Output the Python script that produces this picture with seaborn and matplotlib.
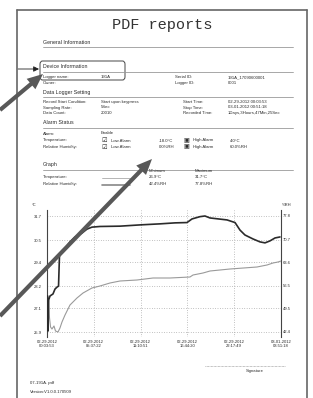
import matplotlib
matplotlib.use('Agg')
import matplotlib.pyplot as plt
import seaborn as sns
from matplotlib.patches import FancyArrowPatch, FancyBboxPatch
from matplotlib.lines import Line2D

W, H = 313, 398

# Relative humidity curve (dark line, right axis) - hours from start
rh_hours = [0.06, 0.12, 0.20, 0.36, 0.71, 0.95, 1.19, 1.37, 1.48, 1.78, 2.26, 2.73,
            3.33, 4.16, 4.75, 5.34, 6.29, 8.67, 11.16, 13.42, 15.20, 16.63, 17.22,
            18.17, 18.76, 19.36, 21.38, 22.33, 22.92, 23.51, 24.46, 25.29, 25.89,
            26.48, 27.08, 27.67]
rh_values = [53.4, 42.7, 52.2, 53.4, 54.0, 55.5, 56.1, 56.4, 65.6, 66.8, 68.3, 69.9,
             71.4, 72.6, 73.8, 74.4, 74.6, 74.7, 75.1, 75.4, 75.7, 75.8, 76.9,
             77.6, 77.8, 77.2, 76.6, 75.8, 73.5, 72.0, 70.8, 69.9, 69.6,
             70.2, 71.1, 71.4]

# Temperature curve (light line, left axis)
temp_hours = [0.12, 0.30, 0.42, 0.59, 0.83, 1.01, 1.31, 1.54, 1.78, 2.14, 2.73, 3.56,
              4.28, 5.34, 6.29, 7.48, 8.67, 10.69, 12.59, 14.61, 16.98, 17.34, 18.53,
              19.36, 21.73, 24.94, 26.13, 26.84, 27.43, 27.79]
temp_values = [27.7, 26.6, 26.15, 26.05, 26.2, 25.95, 25.9, 26.1, 26.4, 26.75, 27.25, 27.6,
               27.85, 28.1, 28.2, 28.35, 28.45, 28.5, 28.6, 28.6, 28.65, 28.75, 28.85,
               28.95, 29.05, 29.15, 29.25, 29.35, 29.4, 29.45]

temp_ticks = [25.9, 27.1, 28.2, 29.4, 30.5, 31.7]
rh_ticks = [42.4, 49.5, 56.5, 63.6, 70.7, 77.8]
time_labels = ['02-29-2012\n00:03:53', '02-29-2012\n05:37:22', '02-29-2012\n11:10:51',
               '02-29-2012\n16:44:20', '02-29-2012\n22:17:49', '03-01-2012\n03:51:18']
span_hours = 27.79

sns.set_style('white')
plt.rcParams['font.family'] = ['Liberation Sans', 'DejaVu Sans']

fig = plt.figure(figsize=(W / 100, H / 100), dpi=100)
fig.patch.set_facecolor('white')

INK = '#2a2a2a'


def P(x, y):
    return (x / W, 1 - y / H)


def txt(x, y, s, size=3.1, color=INK, **kw):
    fig.text(x / W, 1 - y / H, s, fontsize=size, color=color, va='center', **kw)


def hline(x0, x1, y, color='#999999', lw=0.6, **kw):
    fig.add_artist(Line2D([x0 / W, x1 / W], [1 - y / H, 1 - y / H], color=color, lw=lw, **kw))


def vline(x, y0, y1, color='#666666', lw=1.2):
    fig.add_artist(Line2D([x / W, x / W], [1 - y0 / H, 1 - y1 / H], color=color, lw=lw))


# page border
hline(17, 307, 10, color='#666666', lw=1.2)
vline(17, 10, 398)
vline(307, 10, 398)

# title
fig.text(162 / W, 1 - 25 / H, 'PDF reports', fontsize=11, family='Liberation Mono',
         color='#333333', ha='center', va='center')

# headings
for label, y in [('General Information', 42), ('Device Information', 67),
                 ('Data Logger Setting', 92.5), ('Alarm Status', 123), ('Graph', 165)]:
    txt(43, y, label, size=3.8)
    hline(43, 293, y + 4.5)

# device information
txt(43, 77, 'Logger name:'); txt(101, 77, '191A')
txt(175, 77, 'Serial ID:'); txt(228, 77, '191A_17090600001')
txt(43, 83, 'Owner:')
txt(175, 83, 'Logger ID:'); txt(228, 83, '0001')

# data logger setting
rows = [('Record Start Condition:', 'Start upon keypress', 'Start Time:', '02-29-2012 00:03:53'),
        ('Sampling Rate:', '5Sec', 'Stop Time:', '03-01-2012 00:51:18'),
        ('Data Count:', '20010', 'Recorded Time:', '1Days,3Hours,47Min,25Sec')]
for i, (a, b, c, d) in enumerate(rows):
    y = 102 + i * 5.5
    txt(43, y, a); txt(101, y, b); txt(183, y, c); txt(228, y, d)

# alarm status
txt(43, 134, 'Alarm:'); txt(101, 133, 'Enable')
for y, name, low, high in [(140.5, 'Temperature:', '-18.0°C', '4.0°C'),
                           (147, 'Relative Humidity:', '0.0%RH', '60.0%RH')]:
    txt(43, y, name)
    txt(101, y, '\u2611', size=4.5, family='DejaVu Sans')
    txt(111, y, 'Low Alarm'); txt(159, y, low)
    txt(183, y, '\u25A3', size=4.5, family='DejaVu Sans')
    txt(193, y, 'High Alarm'); txt(230, y, high)

# graph summary
txt(149, 171, 'Minimum'); txt(195, 171, 'Maximum')
txt(43, 177, 'Temperature:'); txt(149, 177, '26.9°C'); txt(195, 177, '31.7°C')
txt(43, 184, 'Relative Humidity:'); txt(149, 184, '42.4%RH'); txt(195, 184, '77.8%RH')
hline(102, 130, 178, color='#aaaaaa', lw=0.6)
hline(102, 130, 184.5, color='#888888', lw=1.2)

# chart
ax = fig.add_axes([47 / W, 1 - 337 / H, 234 / W, 127 / H])
ax.patch.set_alpha(0)
sns.lineplot(x=temp_hours, y=temp_values, ax=ax, color='#9a9a9a', lw=0.8, estimator=None)
ax.set_ylim(25.65, 32.0)
ax.set_xlim(0, span_hours)
ax.set_yticks(temp_ticks)
ax.set_yticklabels([f'{v:.1f}' for v in temp_ticks])
ax.set_xticks([i * span_hours / 5 for i in range(6)])
ax.set_xticklabels(time_labels, linespacing=1.0)
ax.grid(True, linestyle=(0, (1, 2.5)), color='#888888', lw=0.5)
for s in ['top', 'bottom', 'right']:
    ax.spines[s].set_visible(False)
ax.spines['left'].set_color('#444444')
ax.spines['left'].set_linewidth(0.8)
ax.tick_params(axis='y', length=0, labelsize=3, pad=3.6, labelcolor=INK)
ax.tick_params(axis='x', length=0, labelsize=3, pad=2, labelcolor=INK)
ax.set_xlabel(''); ax.set_ylabel('')

ax2 = ax.twinx()
sns.lineplot(x=rh_hours, y=rh_values, ax=ax2, color='#2b2b2b', lw=1.2, estimator=None)
ax2.set_ylim(40.87, 79.63)
ax2.set_yticks(rh_ticks)
ax2.set_yticklabels([f'{v:.1f}' for v in rh_ticks])
ax2.grid(False)
for s in ['top', 'bottom', 'left']:
    ax2.spines[s].set_visible(False)
ax2.spines['right'].set_color('#444444')
ax2.spines['right'].set_linewidth(0.8)
ax2.tick_params(axis='y', length=0, labelsize=3, pad=1.5, labelcolor=INK)
ax2.set_ylabel('')

txt(32, 205, '°C', size=3)
txt(282, 205, '%RH', size=3)

# signature and footer
hline(205, 285, 366, color='#888888', lw=0.5, linestyle=(0, (1, 1)))
txt(255, 371, 'Signature', ha='center')
txt(30, 383, '07-191A. pdf')
txt(30, 392, 'Version:V1.0.0.170509')

# annotation overlays
fig.add_artist(FancyBboxPatch(P(40, 80), 85 / W, 19 / H, transform=fig.transFigure,
                              boxstyle='round,pad=0,rounding_size=0.008',
                              fill=False, ec='#444444', lw=0.7))
fig.add_artist(FancyArrowPatch(P(18, 69), P(39, 69), transform=fig.transFigure,
                               arrowstyle='-|>,head_length=0.4,head_width=0.2',
                               mutation_scale=8, color='#222222', lw=0.6,
                               shrinkA=0, shrinkB=0))
for start, end in [((0, 110), (43, 74)), ((0, 316), (152, 159))]:
    fig.add_artist(FancyArrowPatch(P(*start), P(*end), transform=fig.transFigure,
                                   arrowstyle='simple,head_length=0.75,head_width=0.65,tail_width=0.2',
                                   mutation_scale=15, color='#585858', lw=0,
                                   shrinkA=0, shrinkB=0, zorder=10))

fig.savefig('out.png', dpi=100)
